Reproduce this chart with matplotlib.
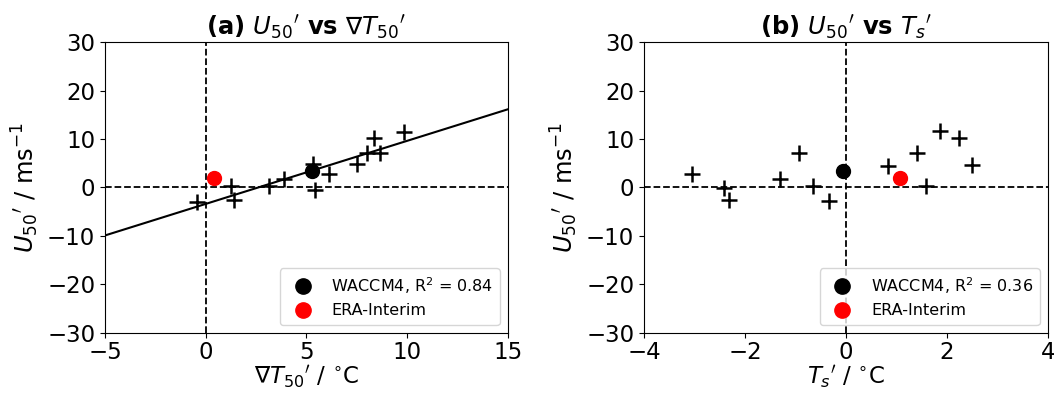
import numpy as np
import matplotlib
matplotlib.use("Agg")
import matplotlib.pyplot as plt

# panel (a): U50' vs grad T50' (ensemble members)
dT50 = [-0.45, 1.28, 1.40, 3.15, 3.89, 5.33, 5.43, 6.12, 7.53, 8.02, 8.36, 8.67, 9.84]
u50_a = [-2.9, 0.3, -2.5, 0.3, 1.8, 4.9, -0.5, 2.8, 4.9, 7.1, 10.2, 7.1, 11.5]
waccm_a = (5.30, 3.4)
era_a = (0.40, 2.0)

# panel (b): U50' vs Ts'
ts = [-3.05, -2.42, -2.31, -1.31, -0.93, -0.66, -0.33, 0.83, 1.42, 1.59, 1.86, 2.24, 2.50]
u50_b = [2.8, -0.1, -2.5, 1.65, 7.1, 0.2, -2.8, 4.5, 7.1, 0.3, 11.6, 10.2, 4.7]
waccm_b = (-0.05, 3.4)
era_b = (1.07, 2.0)

r2_a = 0.84
r2_b = 0.36

fig = plt.figure(figsize=(10.54, 3.93), dpi=100)
ax1 = fig.add_axes([0.0996, 0.153, 0.382, 0.740])
ax2 = fig.add_axes([0.611, 0.153, 0.383, 0.740])

U = r"${U_{50}}^{\prime}$"
ylab = U + r" / ms$^{-1}$"

# (a)
ax1.axhline(0, color="k", ls="--", lw=1.3)
ax1.axvline(0, color="k", ls="--", lw=1.3)
slope, icpt = np.polyfit(dT50, u50_a, 1)
xl = np.array([-5, 15])
ax1.plot(xl, slope * xl + icpt, color="k", lw=1.5)
ax1.plot(dT50, u50_a, "k+", ms=11, mew=1.8)
ax1.plot(*waccm_a, "o", color="k", ms=10, label="WACCM4, R$^2$ = %.2f" % r2_a)
ax1.plot(*era_a, "o", color="red", ms=10, label="ERA-Interim")
ax1.set_xlim(-5, 15)
ax1.set_ylim(-30, 30)
ax1.set_xticks([-5, 0, 5, 10, 15])
ax1.set_xlabel(r"$\nabla {T_{50}}^{\prime}$ / $^{\circ}$C", fontsize=16.5, labelpad=0)
ax1.set_ylabel(ylab, fontsize=17.5)
ax1.set_title(r"(a) " + U + r" vs $\nabla {T_{50}}^{\prime}$", fontsize=17.5, fontweight="bold", pad=5)
ax1.legend(loc="lower right", fontsize=11.5, markerscale=1.1)

# (b)
ax2.axhline(0, color="k", ls="--", lw=1.3)
ax2.axvline(0, color="k", ls="--", lw=1.3)
ax2.plot(ts, u50_b, "k+", ms=11, mew=1.8)
ax2.plot(*waccm_b, "o", color="k", ms=10, label="WACCM4, R$^2$ = %.2f" % r2_b)
ax2.plot(*era_b, "o", color="red", ms=10, label="ERA-Interim")
ax2.set_xlim(-4, 4)
ax2.set_ylim(-30, 30)
ax2.set_xticks([-4, -2, 0, 2, 4])
ax2.set_xlabel(r"${T_s}^{\prime}$ / $^{\circ}$C", fontsize=16.5, labelpad=0)
ax2.set_ylabel(ylab, fontsize=17.5)
ax2.set_title(r"(b) " + U + r" vs ${T_s}^{\prime}$", fontsize=17.5, fontweight="bold", pad=5)
ax2.legend(loc="lower right", fontsize=11.5, markerscale=1.1)

for ax in (ax1, ax2):
    ax.tick_params(labelsize=16.5)
    ax.tick_params(axis="x", pad=2)

fig.savefig("out.png", dpi=100)
